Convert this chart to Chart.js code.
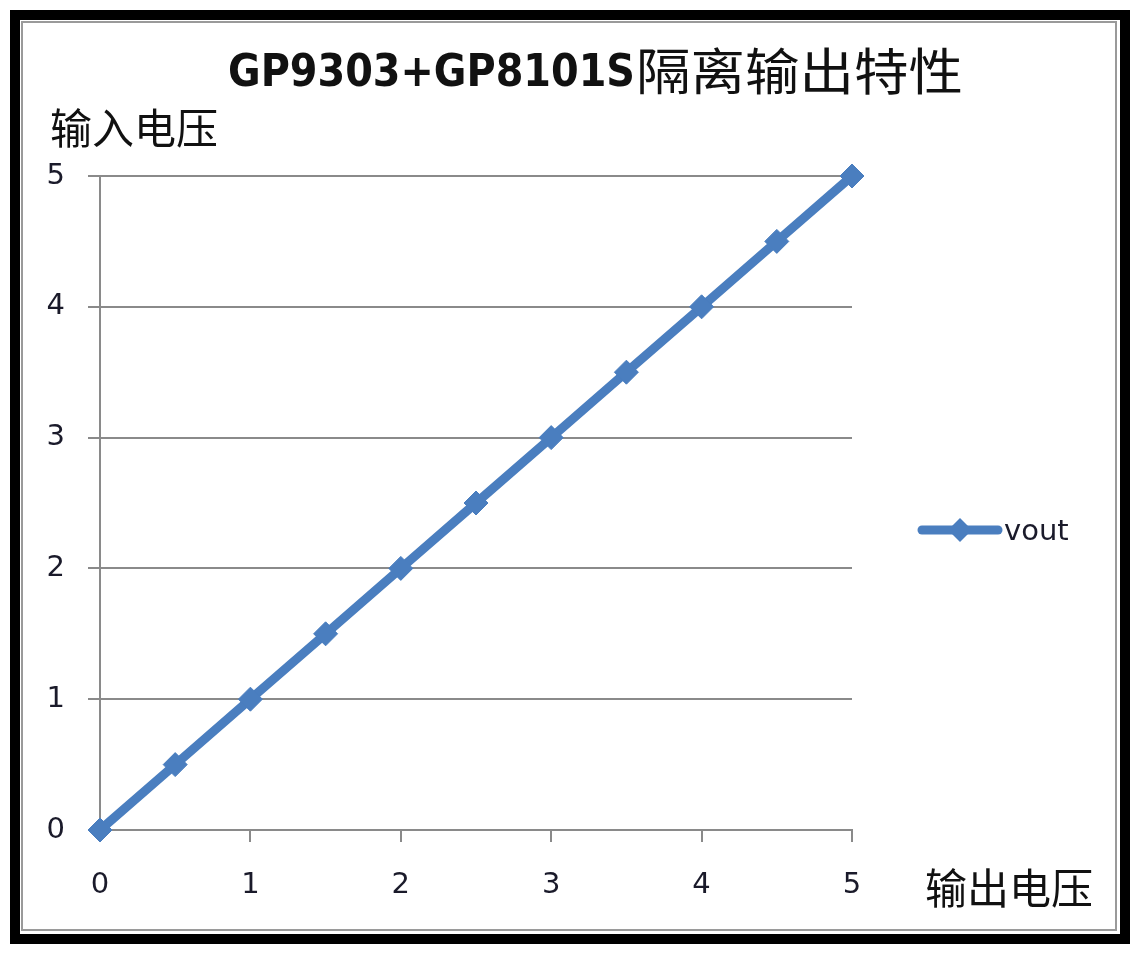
<!DOCTYPE html>
<html>
<head>
<meta charset="utf-8">
<script src="https://cdn.jsdelivr.net/npm/chart.js@4.4.1/dist/chart.umd.min.js"></script>
<style>
html,body{margin:0;padding:0;background:#fff;}
#wrap{position:relative;width:1140px;height:956px;}
</style>
</head>
<body>
<div id="wrap"><canvas id="c" width="1140" height="956"></canvas></div>
<script>
// ---- data ----
const titleLatin = "GP9303+GP8101S";
const titleCJK = "隔离输出特性";
const yAxisTitle = "输入电压";
const xAxisTitle = "输出电压";
const seriesName = "vout";
const xValues = [0, 0.5, 1, 1.5, 2, 2.5, 3, 3.5, 4, 4.5, 5];
const yValues = [0, 0.5, 1, 1.5, 2, 2.5, 3, 3.5, 4, 4.5, 5];
const tickValues = [0, 1, 2, 3, 4, 5];

const BLUE = '#4a7ebf';
const GRID = '#8a8a8a';
const TEXT = '#1a1a2a';

const points = xValues.map((x, i) => ({x: x, y: yValues[i]}));

const decor = {
  id: 'decor',
  beforeDraw(chart) {
    const ctx = chart.ctx;
    ctx.save();
    ctx.fillStyle = '#fff';
    ctx.fillRect(0, 0, chart.width, chart.height);
    ctx.strokeStyle = '#000';
    ctx.lineWidth = 10;
    ctx.strokeRect(15, 15, 1110, 924);
    ctx.strokeStyle = '#9a9a9a';
    ctx.lineWidth = 2;
    ctx.strokeRect(22, 22, 1094, 908);
    ctx.restore();
  },
  afterDraw(chart) {
    const ctx = chart.ctx;
    ctx.save();
    ctx.fillStyle = '#111';
    ctx.textBaseline = 'alphabetic';
    ctx.textAlign = 'left';
    ctx.font = 'bold 44px "DejaVu Sans"';
    const wL = ctx.measureText(titleLatin).width;
    ctx.save();
    ctx.translate(228, 86);
    ctx.scale(407 / wL, 1);
    ctx.fillText(titleLatin, 0, 0);
    ctx.restore();
    ctx.font = '50px "Noto Sans CJK SC"';
    const wC = ctx.measureText(titleCJK).width;
    ctx.save();
    ctx.translate(636, 90);
    ctx.scale(327 / wC, 1);
    ctx.fillText(titleCJK, 0, 0);
    ctx.restore();
    ctx.font = '42px "Noto Sans CJK SC"';
    ctx.textBaseline = 'middle';
    ctx.fillText(yAxisTitle, 50, 128);
    ctx.fillText(xAxisTitle, 925, 888);
    const ds = chart.data.datasets[0];
    ctx.strokeStyle = ds.borderColor;
    ctx.lineWidth = 9;
    ctx.lineCap = 'round';
    ctx.beginPath();
    ctx.moveTo(922, 530);
    ctx.lineTo(998, 530);
    ctx.stroke();
    ctx.fillStyle = ds.pointBackgroundColor;
    ctx.beginPath();
    ctx.moveTo(960, 518); ctx.lineTo(972, 530); ctx.lineTo(960, 542); ctx.lineTo(948, 530);
    ctx.closePath(); ctx.fill();
    ctx.fillStyle = TEXT;
    ctx.font = '29px "DejaVu Sans"';
    ctx.textBaseline = 'middle';
    ctx.fillText(ds.label, 1004, 532);
    ctx.restore();
  }
};

new Chart(document.getElementById('c'), {
  type: 'scatter',
  data: {
    datasets: [{
      label: seriesName,
      data: points,
      showLine: true,
      clip: false,
      borderColor: BLUE,
      borderWidth: 9,
      backgroundColor: BLUE,
      pointBackgroundColor: BLUE,
      pointBorderColor: BLUE,
      pointStyle: 'rectRot',
      pointRadius: 12,
      pointBorderWidth: 1,
      tension: 0
    }]
  },
  options: {
    responsive: false,
    animation: false,
    devicePixelRatio: 1,
    layout: { padding: { left: 0, top: 176, right: 288, bottom: 46 } },
    plugins: { legend: { display: false }, title: { display: false }, tooltip: { enabled: false } },
    scales: {
      x: {
        type: 'linear', min: 0, max: 5,
        afterBuildTicks: s => { s.ticks = tickValues.map(v => ({value: v})); },
        afterFit: s => { s.height = 80; },
        grid: { display: true, drawOnChartArea: false, drawTicks: true, tickLength: 12, color: GRID, lineWidth: 2 },
        border: { display: true, color: GRID, width: 2 },
        ticks: { color: TEXT, font: { family: 'DejaVu Sans', size: 29 }, padding: 26, maxRotation: 0 }
      },
      y: {
        type: 'linear', min: 0, max: 5,
        afterBuildTicks: s => { s.ticks = tickValues.map(v => ({value: v})); },
        afterFit: s => { s.width = 100; },
        grid: { display: true, drawOnChartArea: true, drawTicks: true, tickLength: 12, color: GRID, lineWidth: 2 },
        border: { display: true, color: GRID, width: 2 },
        ticks: { color: TEXT, font: { family: 'DejaVu Sans', size: 29 }, padding: 23 }
      }
    }
  },
  plugins: [decor]
});
</script>
</body>
</html>
